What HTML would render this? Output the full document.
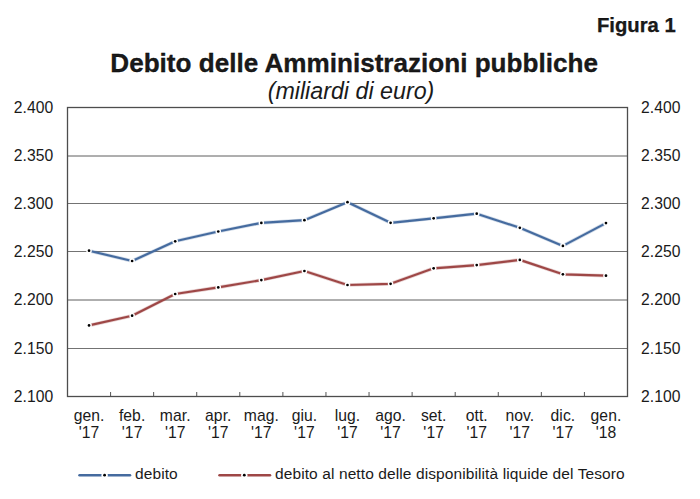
<!DOCTYPE html><html><head><meta charset="utf-8"><style>html,body{margin:0;padding:0;background:#fff;}svg{display:block;}text{font-family:"Liberation Sans",sans-serif;fill:#1a1a1a;}</style></head><body>
<svg width="700" height="499" viewBox="0 0 700 499">
<rect width="700" height="499" fill="#fff"/>
<text x="675.8" y="31.9" text-anchor="end" font-weight="bold" font-size="20.3" fill="#000" stroke="#000" stroke-width="0.25">Figura 1</text>
<text x="354.1" y="72" text-anchor="middle" font-weight="bold" font-size="26.1" fill="#000" stroke="#000" stroke-width="0.3">Debito delle Amministrazioni pubbliche</text>
<text x="351" y="98.7" text-anchor="middle" font-style="italic" font-size="23.25" fill="#000">(miliardi di euro)</text>
<line x1="67.5" x2="627.5" y1="156.0" y2="156.0" stroke="#5e5e5e" stroke-width="1"/>
<line x1="67.5" x2="627.5" y1="203.5" y2="203.5" stroke="#737373" stroke-width="1"/>
<line x1="67.5" x2="627.5" y1="251.5" y2="251.5" stroke="#737373" stroke-width="1"/>
<line x1="67.5" x2="627.5" y1="300.0" y2="300.0" stroke="#5e5e5e" stroke-width="1"/>
<line x1="67.5" x2="627.5" y1="348.5" y2="348.5" stroke="#737373" stroke-width="1"/>
<line x1="110.58" x2="110.58" y1="392" y2="396.5" stroke="#555" stroke-width="1"/>
<line x1="153.65" x2="153.65" y1="392" y2="396.5" stroke="#555" stroke-width="1"/>
<line x1="196.73" x2="196.73" y1="392" y2="396.5" stroke="#555" stroke-width="1"/>
<line x1="239.81" x2="239.81" y1="392" y2="396.5" stroke="#555" stroke-width="1"/>
<line x1="282.88" x2="282.88" y1="392" y2="396.5" stroke="#555" stroke-width="1"/>
<line x1="325.96" x2="325.96" y1="392" y2="396.5" stroke="#555" stroke-width="1"/>
<line x1="369.04" x2="369.04" y1="392" y2="396.5" stroke="#555" stroke-width="1"/>
<line x1="412.12" x2="412.12" y1="392" y2="396.5" stroke="#555" stroke-width="1"/>
<line x1="455.19" x2="455.19" y1="392" y2="396.5" stroke="#555" stroke-width="1"/>
<line x1="498.27" x2="498.27" y1="392" y2="396.5" stroke="#555" stroke-width="1"/>
<line x1="541.35" x2="541.35" y1="392" y2="396.5" stroke="#555" stroke-width="1"/>
<line x1="584.42" x2="584.42" y1="392" y2="396.5" stroke="#555" stroke-width="1"/>
<rect x="67.5" y="107.5" width="560" height="289" fill="none" stroke="#4d4d4d" stroke-width="1.3"/>
<text x="53.4" y="112.70" text-anchor="end" font-size="15.7" letter-spacing="0.06">2.400</text>
<text x="641" y="112.70" text-anchor="start" font-size="15.7" letter-spacing="0.06">2.400</text>
<text x="53.4" y="160.87" text-anchor="end" font-size="15.7" letter-spacing="0.06">2.350</text>
<text x="641" y="160.87" text-anchor="start" font-size="15.7" letter-spacing="0.06">2.350</text>
<text x="53.4" y="208.70" text-anchor="end" font-size="15.7" letter-spacing="0.06">2.300</text>
<text x="641" y="208.70" text-anchor="start" font-size="15.7" letter-spacing="0.06">2.300</text>
<text x="53.4" y="256.70" text-anchor="end" font-size="15.7" letter-spacing="0.06">2.250</text>
<text x="641" y="256.70" text-anchor="start" font-size="15.7" letter-spacing="0.06">2.250</text>
<text x="53.4" y="305.20" text-anchor="end" font-size="15.7" letter-spacing="0.06">2.200</text>
<text x="641" y="305.20" text-anchor="start" font-size="15.7" letter-spacing="0.06">2.200</text>
<text x="53.4" y="353.70" text-anchor="end" font-size="15.7" letter-spacing="0.06">2.150</text>
<text x="641" y="353.70" text-anchor="start" font-size="15.7" letter-spacing="0.06">2.150</text>
<text x="53.4" y="401.70" text-anchor="end" font-size="15.7" letter-spacing="0.06">2.100</text>
<text x="641" y="401.70" text-anchor="start" font-size="15.7" letter-spacing="0.06">2.100</text>
<text x="89.04" y="420.5" text-anchor="middle" font-size="15.7" letter-spacing="0.06">gen.</text>
<text x="89.04" y="438" text-anchor="middle" font-size="15.7" letter-spacing="0.06">'17</text>
<text x="132.12" y="420.5" text-anchor="middle" font-size="15.7" letter-spacing="0.06">feb.</text>
<text x="132.12" y="438" text-anchor="middle" font-size="15.7" letter-spacing="0.06">'17</text>
<text x="175.19" y="420.5" text-anchor="middle" font-size="15.7" letter-spacing="0.06">mar.</text>
<text x="175.19" y="438" text-anchor="middle" font-size="15.7" letter-spacing="0.06">'17</text>
<text x="218.27" y="420.5" text-anchor="middle" font-size="15.7" letter-spacing="0.06">apr.</text>
<text x="218.27" y="438" text-anchor="middle" font-size="15.7" letter-spacing="0.06">'17</text>
<text x="261.35" y="420.5" text-anchor="middle" font-size="15.7" letter-spacing="0.06">mag.</text>
<text x="261.35" y="438" text-anchor="middle" font-size="15.7" letter-spacing="0.06">'17</text>
<text x="304.42" y="420.5" text-anchor="middle" font-size="15.7" letter-spacing="0.06">giu.</text>
<text x="304.42" y="438" text-anchor="middle" font-size="15.7" letter-spacing="0.06">'17</text>
<text x="347.50" y="420.5" text-anchor="middle" font-size="15.7" letter-spacing="0.06">lug.</text>
<text x="347.50" y="438" text-anchor="middle" font-size="15.7" letter-spacing="0.06">'17</text>
<text x="390.58" y="420.5" text-anchor="middle" font-size="15.7" letter-spacing="0.06">ago.</text>
<text x="390.58" y="438" text-anchor="middle" font-size="15.7" letter-spacing="0.06">'17</text>
<text x="433.65" y="420.5" text-anchor="middle" font-size="15.7" letter-spacing="0.06">set.</text>
<text x="433.65" y="438" text-anchor="middle" font-size="15.7" letter-spacing="0.06">'17</text>
<text x="476.73" y="420.5" text-anchor="middle" font-size="15.7" letter-spacing="0.06">ott.</text>
<text x="476.73" y="438" text-anchor="middle" font-size="15.7" letter-spacing="0.06">'17</text>
<text x="519.81" y="420.5" text-anchor="middle" font-size="15.7" letter-spacing="0.06">nov.</text>
<text x="519.81" y="438" text-anchor="middle" font-size="15.7" letter-spacing="0.06">'17</text>
<text x="562.89" y="420.5" text-anchor="middle" font-size="15.7" letter-spacing="0.06">dic.</text>
<text x="562.89" y="438" text-anchor="middle" font-size="15.7" letter-spacing="0.06">'17</text>
<text x="605.96" y="420.5" text-anchor="middle" font-size="15.7" letter-spacing="0.06">gen.</text>
<text x="605.96" y="438" text-anchor="middle" font-size="15.7" letter-spacing="0.06">'18</text>
<polyline points="89.04,250.7 132.12,261 175.19,241.3 218.27,231.5 261.35,222.9 304.42,220.2 347.50,202.2 390.58,222.8 433.65,218.3 476.73,213.7 519.81,227.8 562.89,245.9 605.96,223.1" fill="none" stroke="#456b9f" stroke-opacity="0.25" stroke-width="3.6" stroke-linejoin="round" stroke-linecap="round"/><polyline points="89.04,250.7 132.12,261 175.19,241.3 218.27,231.5 261.35,222.9 304.42,220.2 347.50,202.2 390.58,222.8 433.65,218.3 476.73,213.7 519.81,227.8 562.89,245.9 605.96,223.1" fill="none" stroke="#456b9f" stroke-width="2.2" stroke-linejoin="round" stroke-linecap="round"/><circle cx="89.04" cy="250.7" r="2.8" fill="#fff"/><circle cx="89.04" cy="250.7" r="1.35" fill="#000"/><circle cx="132.12" cy="261" r="2.8" fill="#fff"/><circle cx="132.12" cy="261" r="1.35" fill="#000"/><circle cx="175.19" cy="241.3" r="2.8" fill="#fff"/><circle cx="175.19" cy="241.3" r="1.35" fill="#000"/><circle cx="218.27" cy="231.5" r="2.8" fill="#fff"/><circle cx="218.27" cy="231.5" r="1.35" fill="#000"/><circle cx="261.35" cy="222.9" r="2.8" fill="#fff"/><circle cx="261.35" cy="222.9" r="1.35" fill="#000"/><circle cx="304.42" cy="220.2" r="2.8" fill="#fff"/><circle cx="304.42" cy="220.2" r="1.35" fill="#000"/><circle cx="347.50" cy="202.2" r="2.8" fill="#fff"/><circle cx="347.50" cy="202.2" r="1.35" fill="#000"/><circle cx="390.58" cy="222.8" r="2.8" fill="#fff"/><circle cx="390.58" cy="222.8" r="1.35" fill="#000"/><circle cx="433.65" cy="218.3" r="2.8" fill="#fff"/><circle cx="433.65" cy="218.3" r="1.35" fill="#000"/><circle cx="476.73" cy="213.7" r="2.8" fill="#fff"/><circle cx="476.73" cy="213.7" r="1.35" fill="#000"/><circle cx="519.81" cy="227.8" r="2.8" fill="#fff"/><circle cx="519.81" cy="227.8" r="1.35" fill="#000"/><circle cx="562.89" cy="245.9" r="2.8" fill="#fff"/><circle cx="562.89" cy="245.9" r="1.35" fill="#000"/><circle cx="605.96" cy="223.1" r="2.8" fill="#fff"/><circle cx="605.96" cy="223.1" r="1.35" fill="#000"/>
<polyline points="89.04,325.4 132.12,315.7 175.19,294 218.27,287.4 261.35,280.1 304.42,271 347.50,285 390.58,283.8 433.65,268.3 476.73,265.1 519.81,259.9 562.89,274.3 605.96,275.7" fill="none" stroke="#9e4746" stroke-opacity="0.25" stroke-width="3.6" stroke-linejoin="round" stroke-linecap="round"/><polyline points="89.04,325.4 132.12,315.7 175.19,294 218.27,287.4 261.35,280.1 304.42,271 347.50,285 390.58,283.8 433.65,268.3 476.73,265.1 519.81,259.9 562.89,274.3 605.96,275.7" fill="none" stroke="#9e4746" stroke-width="2.2" stroke-linejoin="round" stroke-linecap="round"/><circle cx="89.04" cy="325.4" r="2.8" fill="#fff"/><circle cx="89.04" cy="325.4" r="1.35" fill="#000"/><circle cx="132.12" cy="315.7" r="2.8" fill="#fff"/><circle cx="132.12" cy="315.7" r="1.35" fill="#000"/><circle cx="175.19" cy="294" r="2.8" fill="#fff"/><circle cx="175.19" cy="294" r="1.35" fill="#000"/><circle cx="218.27" cy="287.4" r="2.8" fill="#fff"/><circle cx="218.27" cy="287.4" r="1.35" fill="#000"/><circle cx="261.35" cy="280.1" r="2.8" fill="#fff"/><circle cx="261.35" cy="280.1" r="1.35" fill="#000"/><circle cx="304.42" cy="271" r="2.8" fill="#fff"/><circle cx="304.42" cy="271" r="1.35" fill="#000"/><circle cx="347.50" cy="285" r="2.8" fill="#fff"/><circle cx="347.50" cy="285" r="1.35" fill="#000"/><circle cx="390.58" cy="283.8" r="2.8" fill="#fff"/><circle cx="390.58" cy="283.8" r="1.35" fill="#000"/><circle cx="433.65" cy="268.3" r="2.8" fill="#fff"/><circle cx="433.65" cy="268.3" r="1.35" fill="#000"/><circle cx="476.73" cy="265.1" r="2.8" fill="#fff"/><circle cx="476.73" cy="265.1" r="1.35" fill="#000"/><circle cx="519.81" cy="259.9" r="2.8" fill="#fff"/><circle cx="519.81" cy="259.9" r="1.35" fill="#000"/><circle cx="562.89" cy="274.3" r="2.8" fill="#fff"/><circle cx="562.89" cy="274.3" r="1.35" fill="#000"/><circle cx="605.96" cy="275.7" r="2.8" fill="#fff"/><circle cx="605.96" cy="275.7" r="1.35" fill="#000"/>
<line x1="79.5" x2="130" y1="475.2" y2="475.2" stroke="#456b9f" stroke-width="2.5" stroke-linecap="round"/><circle cx="104.6" cy="475.2" r="3.2" fill="#fff"/><circle cx="104.6" cy="475.2" r="1.4" fill="#000"/>
<text x="135" y="479.4" font-size="15.5" letter-spacing="0.1">debito</text>
<line x1="219.5" x2="270" y1="475.2" y2="475.2" stroke="#9e4746" stroke-width="2.5" stroke-linecap="round"/><circle cx="244.3" cy="475.2" r="3.2" fill="#fff"/><circle cx="244.3" cy="475.2" r="1.4" fill="#000"/>
<text x="275" y="479.4" font-size="15.5" letter-spacing="0.1">debito al netto delle disponibilità liquide del Tesoro</text>
</svg></body></html>
